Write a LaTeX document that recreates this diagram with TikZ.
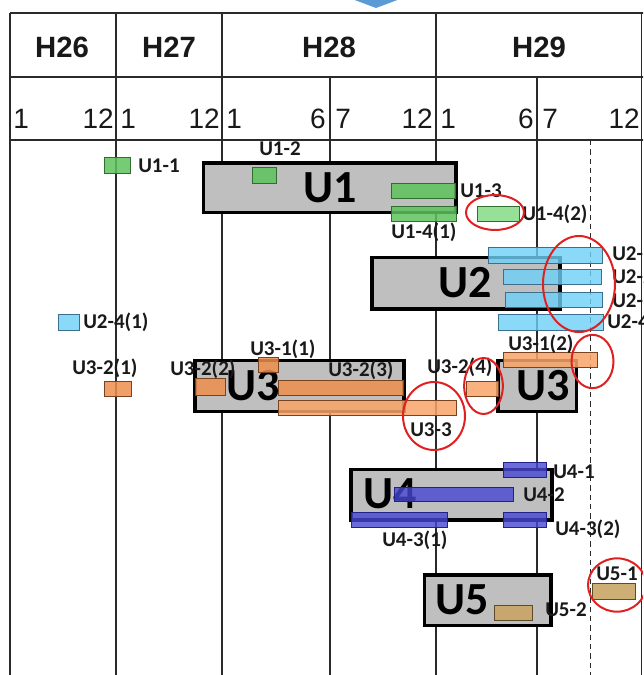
\documentclass[tikz,border=0pt]{standalone}
\usepackage{fontspec}
\setmainfont{Liberation Sans}
\newfontfamily\carl{Carlito}
\definecolor{gridc}{HTML}{2A2A2A}
\definecolor{boxgray}{HTML}{BFBFBF}
\definecolor{gbar}{HTML}{5DC35D}
\definecolor{gbarl}{HTML}{85DB85}
\definecolor{gedge}{HTML}{2E6E2E}
\definecolor{bbar}{HTML}{6DD0F7}
\definecolor{bedge}{HTML}{3A6F90}
\definecolor{obar}{HTML}{EE8E4D}
\definecolor{obarl}{HTML}{F8A468}
\definecolor{oedge}{HTML}{7A4320}
\definecolor{dbar}{HTML}{4646D2}
\definecolor{dedge}{HTML}{22228A}
\definecolor{tbar}{HTML}{C8A565}
\definecolor{tedge}{HTML}{5E4A28}
\definecolor{ring}{HTML}{E02020}
\definecolor{arrowblue}{HTML}{5B9BD5}
\begin{document}
\begin{tikzpicture}[x=0.75pt,y=-0.75pt,
  gridline/.style={draw=gridc,line width=1.2pt},
  ubox/.style={draw=black,fill=boxgray,line width=2.3pt},
  barg/.style={draw=gedge,fill=gbar,line width=0.6pt,fill opacity=0.85},
  bargl/.style={draw=gedge,fill=gbarl,line width=0.6pt,fill opacity=0.85},
  barb/.style={draw=bedge,fill=bbar,line width=0.6pt,fill opacity=0.8},
  baro/.style={draw=oedge,fill=obar,line width=0.6pt,fill opacity=0.85},
  barol/.style={draw=oedge,fill=obarl,line width=0.6pt,fill opacity=0.85},
  bard/.style={draw=dedge,fill=dbar,line width=0.6pt,fill opacity=0.8},
  bart/.style={draw=tedge,fill=tbar,line width=0.6pt,fill opacity=0.9},
  lbl/.style={anchor=west,inner sep=0pt,text height=10.1pt,text depth=0pt,
    font=\carl\bfseries\fontsize{15.75}{18}\selectfont,text=black!90},
  big/.style={inner sep=0pt,text height=22.2pt,text depth=0pt,
    font=\carl\bfseries\fontsize{34.5}{40}\selectfont,text=black},
  hdr/.style={inner sep=0pt,text height=15.8pt,text depth=0pt,font=\bfseries\fontsize{22}{26}\selectfont,text=black!90},
  num/.style={inner sep=0pt,text height=15pt,text depth=0pt,font=\fontsize{21}{24}\selectfont,text=black!90},
  redring/.style={draw=ring,line width=1.5pt}]
\useasboundingbox (0,0) rectangle (643,675);
\clip (0,0) rectangle (643,675);
% top arrow tip
\fill[arrowblue] (352,-1) -- (400,-1) -- (376,8) -- cycle;
% grid
\draw[gridline] (10,13) -- (650,13);
\draw[gridline] (10,77) -- (650,77);
\draw[gridline] (10,140) -- (650,140);
\draw[gridline] (10,13) -- (10,680);
\draw[gridline] (116,13) -- (116,680);
\draw[gridline] (222,13) -- (222,680);
\draw[gridline] (436,13) -- (436,680);
\draw[gridline] (330,77) -- (330,680);
\draw[gridline] (537,77) -- (537,680);
\draw[gridline] (641.5,13) -- (641.5,680);
\draw[draw=gridc,line width=0.7pt,dash pattern=on 4pt off 3pt] (590,140) -- (590,680);
% headers
\node[hdr] (h26) at (62,47) {H26};
\node[hdr] (h27) at (169,47) {H27};
\node[hdr] (h28) at (329,47) {H28};
\node[hdr] (h29) at (539,47) {H29};
% month numbers
\node[num,anchor=west] (m1a) at (13,118) {1};
\node[num,anchor=east] (m12a) at (114,118) {12};
\node[num,anchor=west] (m1b) at (120,118) {1};
\node[num,anchor=east] (m12b) at (220,118) {12};
\node[num,anchor=west] (m1c) at (226,118) {1};
\node[num,anchor=east] (m6c) at (326,118) {6};
\node[num,anchor=west] (m7c) at (335,118) {7};
\node[num,anchor=east] (m12c) at (433,118) {12};
\node[num,anchor=west] (m1d) at (440,118) {1};
\node[num,anchor=east] (m6d) at (534,118) {6};
\node[num,anchor=west] (m7d) at (542,118) {7};
\node[num,anchor=east] (m12d) at (640,118) {12};
% grey unit boxes
\draw[ubox] (203.5,163) rectangle (456,212.5);
\draw[ubox] (372,257.5) rectangle (560,309);
\draw[ubox] (195,360.5) rectangle (404,411.5);
\draw[ubox] (498,360.5) rectangle (576.5,411.5);
\draw[ubox] (351,469.5) rectangle (552,520);
\draw[ubox] (424.5,575) rectangle (551,625.5);
% big labels
\node[big] (U1) at (330,187.5) {U1};
\node[big] (U2) at (465,283) {U2};
\node[big] (U3a) at (253,386) {U3};
\node[big] (U3b) at (543,386) {U3};
\node[big] (U4) at (390,494) {U4};
\node[big] (U5) at (462,600) {U5};
% U1 bars
\draw[barg] (104.5,157.5) rectangle (130.5,173.5);
\draw[barg] (252,167.5) rectangle (276.5,183.5);
\draw[barg] (391,183) rectangle (455,198.5);
\draw[barg] (391,206.5) rectangle (456.5,221.5);
\draw[bargl] (477,206) rectangle (519,221.5);
% U2 bars
\draw[barb] (488.5,247.5) rectangle (602.5,263);
\draw[barb] (503,269) rectangle (601.5,284.5);
\draw[barb] (505,292.5) rectangle (602.5,307.5);
\draw[barb] (498.5,314) rectangle (603.5,330);
\draw[barb] (58,314) rectangle (79.5,330.5);
% U3 bars
\draw[baro] (104.5,381) rectangle (131,396.5);
\draw[baro] (195,378.5) rectangle (225.5,395);
\draw[baro] (258,357) rectangle (278.5,372.5);
\draw[baro] (278.5,380) rectangle (403,395);
\draw[barol] (278.5,400) rectangle (456,415);
\draw[barol] (466,381) rectangle (498.5,396);
\draw[barol] (503.5,352) rectangle (597.5,367.5);
% U4 bars
\draw[bard] (503,462.5) rectangle (546,477);
\draw[bard] (394,487) rectangle (513.5,501);
\draw[bard] (351,512) rectangle (447.5,527.5);
\draw[bard] (503,512) rectangle (546,527.5);
% U5 bars
\draw[bart] (494.5,605) rectangle (532.5,620);
\draw[bart] (592,583) rectangle (635,599);
% labels
\node[lbl] (l11) at (138,166) {U1-1};
\node[lbl] (l12) at (259,148.5) {U1-2};
\node[lbl] (l13) at (460,190.5) {U1-3};
\node[lbl] (l141) at (391,231.5) {U1-4(1)};
\node[lbl] (l142) at (522,214) {U1-4(2)};
\node[lbl] (l21) at (612,253.5) {U2-1};
\node[lbl] (l22) at (612,277) {U2-2};
\node[lbl] (l23) at (612,301) {U2-3};
\node[lbl] (l242) at (607,322) {U2-4(2)};
\node[lbl] (l241) at (83,322) {U2-4(1)};
\node[lbl] (l321) at (72,367.5) {U3-2(1)};
\node[lbl] (l322) at (170,368.5) {U3-2(2)};
\node[lbl] (l311) at (250,348.5) {U3-1(1)};
\node[lbl] (l323) at (328,370) {U3-2(3)};
\node[lbl] (l324) at (427,367) {U3-2(4)};
\node[lbl] (l312) at (508,343.5) {U3-1(2)};
\node[lbl] (l33) at (410,430) {U3-3};
\node[lbl] (l41) at (553,472) {U4-1};
\node[lbl] (l42) at (523,495) {U4-2};
\node[lbl] (l431) at (382,540) {U4-3(1)};
\node[lbl] (l432) at (555,528.5) {U4-3(2)};
\node[lbl] (l51) at (596,573.5) {U5-1};
\node[lbl] (l52) at (545,610) {U5-2};
% red rings
\draw[redring] (495,212.5) ellipse [x radius=21.75pt, y radius=13.1pt];
\draw[redring] (579,284) ellipse [x radius=27pt, y radius=36pt];
\draw[redring] (592.5,361.5) ellipse [x radius=15.75pt, y radius=20pt];
\draw[redring] (483.5,386) ellipse [x radius=14.5pt, y radius=21pt];
\draw[redring] (434,416) ellipse [x radius=23.25pt, y radius=25.5pt];
\draw[redring] (617,585) ellipse [x radius=21.75pt, y radius=20pt];
\end{tikzpicture}
\end{document}
